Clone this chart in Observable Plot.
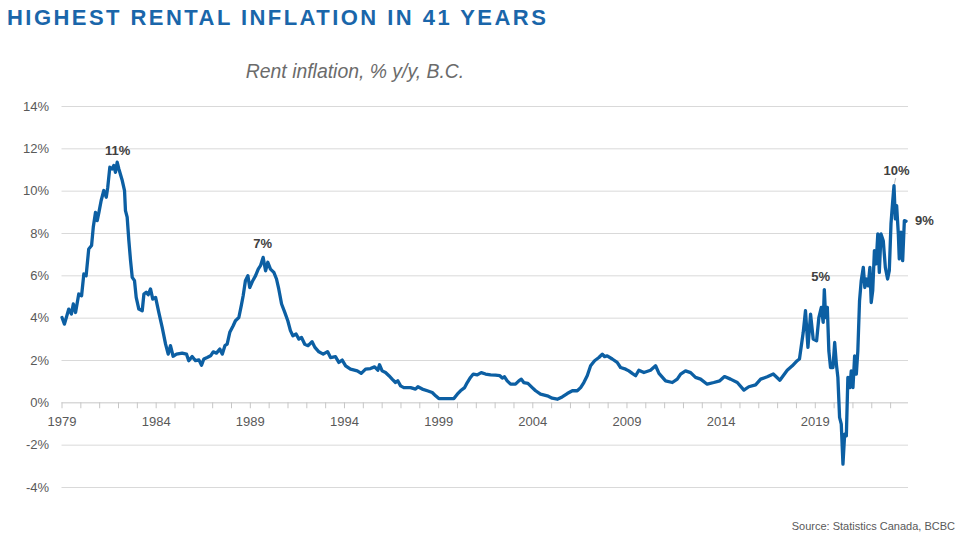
<!DOCTYPE html>
<html>
<head>
<meta charset="utf-8">
<script src="https://cdn.jsdelivr.net/npm/d3@7"></script>
<script src="https://cdn.jsdelivr.net/npm/@observablehq/plot@0.6"></script>
<style>
  html, body { margin: 0; padding: 0; background: #fff; }
  body { width: 960px; height: 535px; position: relative; overflow: hidden; font-family: "Liberation Sans", Arial, sans-serif; }
  #title { position: absolute; left: 7px; top: 7px; font-size: 22px; line-height: 22px; font-weight: bold; letter-spacing: 2.45px; color: #1A66AA; white-space: nowrap; }
  #subtitle { position: absolute; left: 0; width: 710px; text-align: center; top: 61px; font-size: 19.4px; line-height: 20px; font-style: italic; color: #6b6b6b; white-space: nowrap; }
  #chart { position: absolute; left: 0; top: 90px; }
  #source { position: absolute; right: 5px; top: 520px; font-size: 11px; line-height: 13px; color: #595959; white-space: nowrap; }
</style>
</head>
<body>
<div id="title">HIGHEST RENTAL INFLATION IN 41 YEARS</div>
<div id="subtitle">Rent inflation, % y/y, B.C.</div>
<div id="chart"></div>
<div id="source">Source: Statistics Canada, BCBC</div>
<script>
const years = [
  1979.00,1979.13,1979.36,1979.50,1979.60,1979.72,1979.89,1980.04,1980.16,1980.28,
  1980.42,1980.57,1980.66,1980.78,1980.87,1980.96,1981.08,1981.22,1981.35,1981.43,
  1981.54,1981.66,1981.75,1981.84,1981.93,1982.02,1982.20,1982.32,1982.37,1982.46,
  1982.55,1982.64,1982.73,1982.85,1982.94,1983.08,1983.26,1983.35,1983.47,1983.58,
  1983.70,1983.82,1983.97,1984.14,1984.32,1984.50,1984.64,1984.76,1984.90,1985.08,
  1985.38,1985.61,1985.73,1985.91,1986.09,1986.27,1986.41,1986.53,1986.71,1986.89,
  1987.03,1987.20,1987.38,1987.51,1987.65,1987.77,1987.91,1988.09,1988.21,1988.39,
  1988.52,1988.62,1988.74,1988.87,1988.97,1989.13,1989.28,1989.42,1989.54,1989.68,
  1989.81,1989.93,1990.07,1990.25,1990.39,1990.51,1990.66,1990.83,1990.99,1991.13,
  1991.26,1991.43,1991.58,1991.72,1991.89,1992.07,1992.28,1992.43,1992.64,1992.87,
  1993.10,1993.26,1993.52,1993.70,1993.88,1994.06,1994.32,1994.68,1994.89,1995.12,
  1995.38,1995.60,1995.77,1995.86,1996.00,1996.18,1996.36,1996.53,1996.71,1996.83,
  1996.98,1997.15,1997.51,1997.77,1997.90,1998.13,1998.40,1998.66,1998.84,1999.01,
  1999.46,1999.81,1999.99,2000.16,2000.38,2000.52,2000.69,2000.84,2001.05,2001.26,
  2001.49,2001.76,2002.02,2002.25,2002.38,2002.50,2002.64,2002.82,2003.08,2003.26,
  2003.39,2003.52,2003.74,2003.97,2004.15,2004.41,2004.77,2005.03,2005.30,2005.56,
  2005.83,2006.10,2006.36,2006.54,2006.71,2006.89,2007.07,2007.28,2007.51,2007.69,
  2007.81,2007.95,2008.22,2008.48,2008.66,2008.93,2009.10,2009.28,2009.46,2009.63,
  2009.90,2010.25,2010.52,2010.70,2011.05,2011.41,2011.67,2011.85,2012.11,2012.38,
  2012.64,2012.91,2013.26,2013.61,2013.93,2014.18,2014.50,2014.86,2015.21,2015.47,
  2015.83,2016.10,2016.45,2016.77,2017.12,2017.51,2017.78,2018.04,2018.16,2018.36,
  2018.48,2018.61,2018.75,2018.89,2019.07,2019.19,2019.32,2019.42,2019.48,2019.55,
  2019.64,2019.72,2019.81,2019.94,2020.03,2020.12,2020.20,2020.29,2020.38,2020.47,
  2020.56,2020.65,2020.73,2020.84,2020.91,2021.00,2021.09,2021.18,2021.26,2021.35,
  2021.44,2021.55,2021.63,2021.72,2021.81,2021.90,2021.97,2022.05,2022.14,2022.23,
  2022.32,2022.40,2022.49,2022.61,2022.72,2022.84,2022.93,2023.02,2023.10,2023.18,
  2023.25,2023.32,2023.41,2023.46,2023.55,2023.64,2023.73,2023.82
];
// Rent inflation, % y/y, B.C.
const rent = [
  4.03,3.72,4.43,4.20,4.67,4.27,5.14,5.06,6.09,6.00,
  7.27,7.43,8.29,9.00,8.61,9.00,9.56,10.03,9.71,10.19,
  11.13,11.05,11.21,10.89,11.37,11.05,10.50,10.03,9.08,8.77,
  7.66,6.72,5.93,5.77,4.98,4.43,4.35,5.14,5.22,5.11,
  5.38,4.90,4.98,4.27,3.56,2.77,2.30,2.70,2.20,2.30,
  2.35,2.30,1.99,2.19,1.99,2.03,1.78,2.07,2.14,2.22,
  2.41,2.35,2.54,2.30,2.70,2.77,3.33,3.64,3.88,4.03,
  4.59,5.06,5.77,6.01,5.45,5.77,6.01,6.32,6.48,6.87,
  6.24,6.64,6.32,6.16,5.85,5.38,4.67,4.27,3.88,3.41,
  3.17,3.25,3.01,3.09,2.77,2.70,2.89,2.62,2.41,2.30,
  2.42,2.14,2.18,1.91,2.02,1.75,1.59,1.51,1.39,1.59,
  1.62,1.70,1.54,1.80,1.51,1.43,1.28,1.12,0.96,1.04,
  0.80,0.72,0.72,0.65,0.76,0.65,0.57,0.49,0.33,0.20,
  0.20,0.20,0.41,0.57,0.72,0.96,1.20,1.36,1.32,1.43,
  1.36,1.32,1.31,1.28,1.17,1.23,1.04,0.88,0.88,1.04,
  1.12,0.96,0.92,0.72,0.57,0.41,0.33,0.22,0.17,0.28,
  0.44,0.57,0.57,0.72,0.96,1.28,1.75,1.99,2.14,2.30,
  2.18,2.22,2.07,1.91,1.67,1.59,1.51,1.39,1.28,1.54,
  1.43,1.54,1.75,1.39,1.04,0.96,1.12,1.36,1.51,1.43,
  1.20,1.12,0.88,0.96,1.04,1.24,1.12,0.96,0.60,0.76,
  0.85,1.12,1.23,1.36,1.07,1.54,1.75,1.99,2.07,3.33,
  4.35,2.62,4.19,3.01,2.93,4.03,4.51,3.80,5.35,4.03,
  4.51,2.46,1.67,1.67,2.85,1.83,1.20,-0.69,-1.01,-2.90,
  -1.48,-1.56,1.20,0.72,1.51,0.72,2.22,1.36,2.46,4.82,
  5.77,6.40,5.45,5.85,5.53,6.40,4.74,5.30,7.19,6.56,
  7.98,6.16,7.98,7.66,6.40,5.85,6.24,8.45,9.40,10.26,
  8.69,9.32,7.98,6.80,8.06,6.72,8.61,8.58
];
const yTicks = [-4, -2, 0, 2, 4, 6, 8, 10, 12, 14];
const xTickLabels = [1979, 1984, 1989, 1994, 1999, 2004, 2009, 2014, 2019];
const xMinorTicks = d3.range(1979, 2024);
// Callouts
const noteText = ["11%", "7%", "5%", "10%"];
const noteYear = [1981.95, 1989.65, 2019.28, 2023.32];
const noteValue = [11.92, 7.52, 5.96, 10.97];
const lastLabel = ["9%"];

const series = years.map((y, i) => ({year: y, value: rent[i]}));
const notes = noteText.map((t, i) => ({text: t, year: noteYear[i], value: noteValue[i]}));
const last = [{text: lastLabel[0], year: years[years.length - 1], value: rent[rent.length - 1]}];
// small leader from the "10%" callout to the peak
const leader = [{x1: 2023.27, y1: 10.62, x2: 2023.2, y2: 10.35}];

const chart = Plot.plot({
  width: 960,
  height: 420,
  marginTop: 16,
  marginBottom: 23,
  marginLeft: 61.5,
  marginRight: 52,
  style: {fontFamily: "'Liberation Sans', Arial, sans-serif", fontSize: "13px", color: "#595959", background: "transparent"},
  x: {domain: [1979, 2023.95], axis: null},
  y: {domain: [-4, 14], ticks: yTicks, tickFormat: d => d + "%", tickSize: 0, tickPadding: 13, label: null},
  marks: [
    Plot.ruleY(yTicks.filter(d => d !== 0), {stroke: "#d9d9d9", strokeWidth: 1}),
    Plot.ruleY([0], {stroke: "#c6c6c6", strokeWidth: 1}),
    Plot.ruleX(xMinorTicks, {x: d => d, y1: 0, y2: -0.28, stroke: "#c6c6c6", strokeWidth: 1}),
    Plot.text(xTickLabels, {x: d => d, y: 0, dy: 19, text: d => String(d), fill: "#595959", fontSize: 13}),
    Plot.line(series, {x: "year", y: "value", stroke: "#0C5FA3", strokeWidth: 3.3, strokeLinejoin: "round", strokeLinecap: "round"}),
    Plot.link(leader, {x1: "x1", y1: "y1", x2: "x2", y2: "y2", stroke: "#bfbfbf", strokeWidth: 1}),
    Plot.text(notes, {x: "year", y: "value", text: "text", fill: "#404040", fontSize: 13, fontWeight: "bold"}),
    Plot.text(last, {x: "year", y: "value", text: "text", dx: 9, textAnchor: "start", fill: "#404040", fontSize: 13, fontWeight: "bold"})
  ]
});
document.getElementById("chart").appendChild(chart);
</script>
</body>
</html>
